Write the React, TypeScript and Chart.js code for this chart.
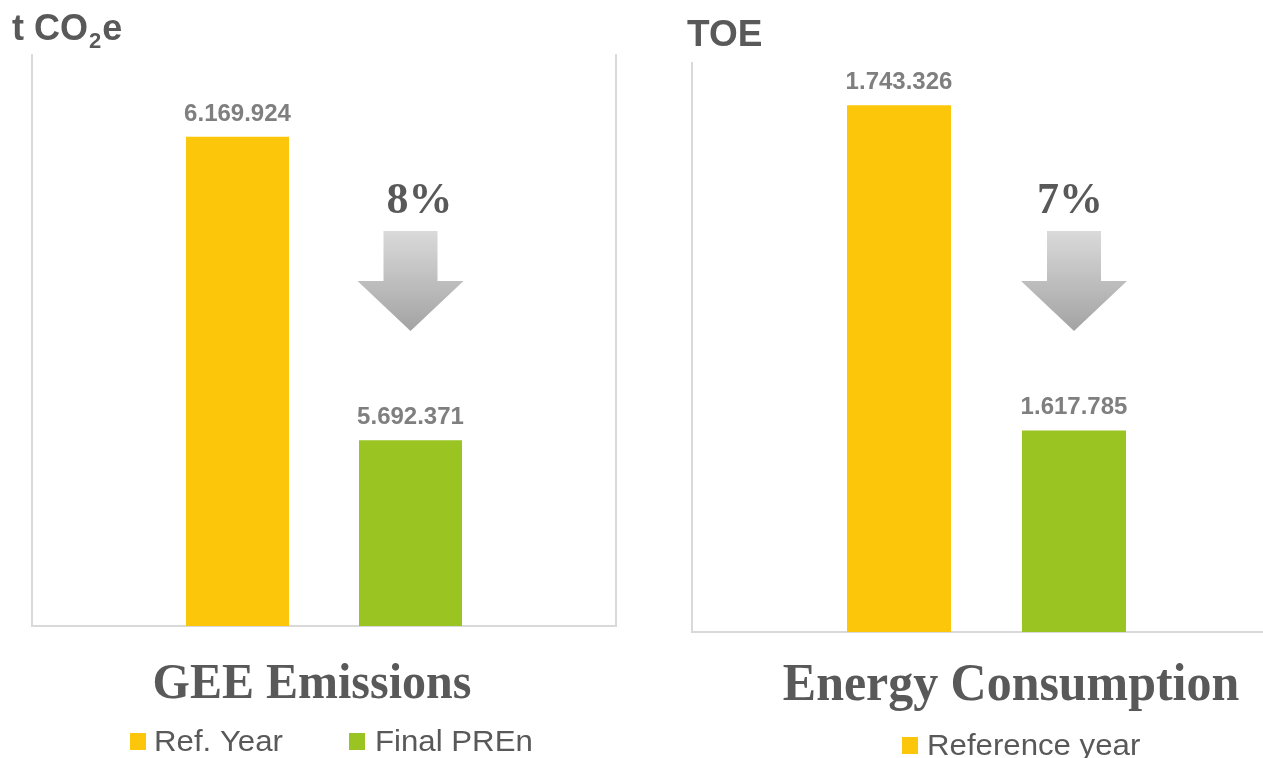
import React, { useEffect, useRef } from 'react';
import { Chart, registerables } from 'chart.js';

Chart.register(...registerables);

// ---------- data ----------
const ghgCategories = ['GEE Emissions'];
const ghgSeriesNames = ['Ref. Year', 'Final PREn'];
const ghgValues = [6169924, 5692371];
const ghgUnit = ['t CO', '2', 'e'];
const ghgAxisMin = 5400000;
const ghgAxisMax = 6300000;

const energyCategories = ['Energy Consumption'];
const energySeriesNames = ['Reference year', 'Final PREn'];
const energyValues = [1743326, 1617785];
const energyUnit = ['TOE'];
const energyAxisMin = 1540000;
const energyAxisMax = 1760000;

const seriesColors = ['#FCC60A', '#9AC421'];

// ---------- helpers ----------
const fmt = (v: number) => String(Math.round(v)).replace(/\B(?=(\d{3})+(?!\d))/g, '.');
const SANS = '"Liberation Sans", Arial, sans-serif';
const SERIF = '"Liberation Serif", "Times New Roman", serif';
const TEXT_DARK = '#595959';
const TEXT_LABEL = '#7f7f7f';
const FRAME = '#d9d9d9';

type Panel = {
  canvasLeft: number;
  canvasWidth: number;
  padding: { left: number; top: number; right: number; bottom: number };
  categories: string[];
  names: string[];
  values: number[];
  unit: string[];
  min: number;
  max: number;
  catPct: number;
  barPct: number;
  unitPos: { x: number; y: number; size: number };
  percentDx: number;
  titlePos: { x: number; y: number; size: number; sx: number };
  legend: { box: [number, number]; text: [number, number] }[];
  rightFrame: boolean;
};

function makePlugin(p: Panel) {
  return {
    id: 'panelDecor',
    beforeDatasetsDraw(chart: any) {
      const { ctx, chartArea } = chart;
      ctx.save();
      ctx.strokeStyle = FRAME;
      ctx.lineWidth = 2;
      ctx.beginPath();
      ctx.moveTo(chartArea.left, chartArea.top);
      ctx.lineTo(chartArea.left, chartArea.bottom);
      ctx.lineTo(chartArea.right, chartArea.bottom);
      if (p.rightFrame) ctx.lineTo(chartArea.right, chartArea.top);
      ctx.stroke();
      ctx.restore();
    },
    afterDatasetsDraw(chart: any) {
      const ctx = chart.ctx as CanvasRenderingContext2D;
      const off = p.canvasLeft;
      ctx.save();

      // data labels
      ctx.font = `bold 24px ${SANS}`;
      ctx.fillStyle = TEXT_LABEL;
      ctx.textAlign = 'center';
      ctx.textBaseline = 'alphabetic';
      chart.data.datasets.forEach((ds: any, i: number) => {
        const meta = chart.getDatasetMeta(i);
        meta.data.forEach((bar: any, j: number) => {
          ctx.fillText(fmt(ds.data[j]), bar.x, bar.y - 16);
        });
      });

      // unit
      ctx.textAlign = 'left';
      ctx.fillStyle = TEXT_DARK;
      let ux = p.unitPos.x - off;
      if (p.unit.length === 3) {
        ctx.font = `bold ${p.unitPos.size}px ${SANS}`;
        ctx.fillText(p.unit[0], ux, p.unitPos.y);
        ux += ctx.measureText(p.unit[0]).width;
        ctx.font = `bold ${Math.round(p.unitPos.size * 0.6)}px ${SANS}`;
        ctx.fillText(p.unit[1], ux + 1, p.unitPos.y + 8);
        ux += ctx.measureText(p.unit[1]).width + 2;
        ctx.font = `bold ${p.unitPos.size}px ${SANS}`;
        ctx.fillText(p.unit[2], ux, p.unitPos.y);
      } else {
        ctx.font = `bold ${p.unitPos.size}px ${SANS}`;
        ctx.fillText(p.unit[0], ux, p.unitPos.y);
      }

      // arrow + percent
      const second = chart.getDatasetMeta(1).data[0];
      const cx = second.x;
      const shaftTop = 231, headTop = 281, tip = 331;
      const grad = ctx.createLinearGradient(0, shaftTop, 0, tip);
      grad.addColorStop(0, '#dadada');
      grad.addColorStop(1, '#a3a3a3');
      ctx.fillStyle = grad;
      ctx.beginPath();
      ctx.moveTo(cx - 27, shaftTop);
      ctx.lineTo(cx + 27, shaftTop);
      ctx.lineTo(cx + 27, headTop);
      ctx.lineTo(cx + 53, headTop);
      ctx.lineTo(cx, tip);
      ctx.lineTo(cx - 53, headTop);
      ctx.lineTo(cx - 27, headTop);
      ctx.closePath();
      ctx.fill();

      const pct = Math.round(((p.values[0] - p.values[1]) / p.values[0]) * 100);
      ctx.fillStyle = TEXT_DARK;
      ctx.textAlign = 'center';
      ctx.font = `bold 44px ${SERIF}`;
      ctx.fillText(`${pct}%`, cx + p.percentDx, 213);

      // bottom title
      ctx.font = `bold ${p.titlePos.size}px ${SERIF}`;
      ctx.save();
      ctx.translate(p.titlePos.x - off, p.titlePos.y);
      ctx.scale(p.titlePos.sx, 1);
      ctx.fillText(p.categories[0], 0, 0);
      ctx.restore();

      // legend
      ctx.textAlign = 'left';
      p.legend.forEach((it, i) => {
        ctx.fillStyle = seriesColors[i];
        ctx.fillRect(it.box[0] - off, it.box[1], 16, 17);
        ctx.fillStyle = TEXT_DARK;
        ctx.font = `30px ${SANS}`;
        ctx.save();
        ctx.translate(it.text[0] - off, it.text[1]);
        ctx.scale(1.04, 1);
        ctx.fillText(p.names[i], 0, 0);
        ctx.restore();
      });

      ctx.restore();
    },
  };
}

const panels: Panel[] = [
  {
    canvasLeft: 0,
    canvasWidth: 640,
    padding: { left: 32, top: 54, right: 24, bottom: 132 },
    categories: ghgCategories,
    names: ghgSeriesNames,
    values: ghgValues,
    unit: ghgUnit,
    min: ghgAxisMin,
    max: ghgAxisMax,
    catPct: 346 / 584,
    barPct: 103 / 173,
    unitPos: { x: 12, y: 40, size: 36 },
    percentDx: 9,
    titlePos: { x: 312, y: 698, size: 50, sx: 0.96 },
    legend: [
      { box: [130, 733], text: [154, 751] },
      { box: [349, 733], text: [375, 751] },
    ],
    rightFrame: true,
  },
  {
    canvasLeft: 640,
    canvasWidth: 660,
    padding: { left: 52, top: 62, right: 19, bottom: 126 },
    categories: energyCategories,
    names: energySeriesNames,
    values: energyValues,
    unit: energyUnit,
    min: energyAxisMin,
    max: energyAxisMax,
    catPct: 350 / 589,
    barPct: 104 / 175,
    unitPos: { x: 687, y: 46, size: 37 },
    percentDx: -4,
    titlePos: { x: 1011, y: 700, size: 52, sx: 0.96 },
    legend: [
      { box: [902, 737], text: [927, 755] },
      { box: [902, 777], text: [927, 795] },
    ],
    rightFrame: true,
  },
];

function PanelChart({ p }: { p: Panel }) {
  const ref = useRef<HTMLCanvasElement | null>(null);
  useEffect(() => {
    if (!ref.current) return;
    const chart = new Chart(ref.current, {
      type: 'bar',
      data: {
        labels: p.categories,
        datasets: p.names.map((n, i) => ({
          label: n,
          data: [p.values[i]],
          backgroundColor: seriesColors[i],
          borderWidth: 0,
          categoryPercentage: p.catPct,
          barPercentage: p.barPct,
        })),
      },
      options: {
        responsive: false,
        animation: false,
        devicePixelRatio: 1,
        layout: { padding: p.padding },
        plugins: {
          legend: { display: false },
          title: { display: false },
          tooltip: { enabled: false },
        },
        scales: {
          x: { display: false },
          y: { display: false, min: p.min, max: p.max },
        },
      },
      plugins: [makePlugin(p) as any],
    });
    return () => chart.destroy();
  }, [p]);
  return (
    <canvas
      ref={ref}
      width={p.canvasWidth}
      height={758}
      style={{ position: 'absolute', left: p.canvasLeft, top: 0, width: p.canvasWidth, height: 758 }}
    />
  );
}

export default function App() {
  return (
    <div
      style={{
        position: 'fixed',
        left: 0,
        top: 0,
        width: 1263,
        height: 758,
        overflow: 'hidden',
        background: '#ffffff',
      }}
    >
      {panels.map((p, i) => (
        <PanelChart key={i} p={p} />
      ))}
    </div>
  );
}
